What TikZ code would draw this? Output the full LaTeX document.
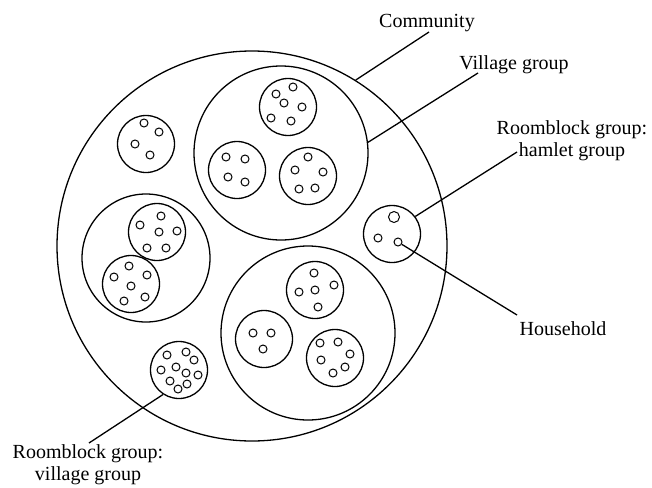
\documentclass[tikz,border=0pt]{standalone}
\usepackage{fontspec}
\setmainfont{Liberation Serif}
\usepackage{tikz}
\tikzset{grp/.style={draw, circle, inner sep=0pt, line width=1.3pt}}
\tikzset{rb/.style={grp, minimum size=57pt}}
\tikzset{hh/.style={draw, circle, inner sep=0pt, minimum size=8pt, line width=1pt}}
\tikzset{lead/.style={line width=1.3pt}}
\tikzset{lbl/.style={font=\fontsize{20}{22}\selectfont, inner sep=0pt, align=center}}

\begin{document}
\begin{tikzpicture}[x=1pt,y=-1pt]
\useasboundingbox (0,0) rectangle (652,487);
% community and village groups
\node[grp, minimum size=390pt] (comm) at (252,246) {};
\node[grp, minimum size=174pt] (vgA) at (281,153) {};
\node[grp, minimum size=174pt] (vgB) at (308,333) {};
\node[grp, minimum size=128pt] (vgC) at (146,258) {};
% roomblocks
\node[rb] (rbA1) at (288,107) {};
\node[rb] (rbA2) at (237,170) {};
\node[rb] (rbA3) at (308,176) {};
\node[rb] (rbS) at (146,144) {};
\node[rb] (rbC1) at (157,232) {};
\node[rb] (rbC2) at (131,284) {};
\node[rb] (rbB1) at (315,290) {};
\node[rb] (rbB2) at (264,339) {};
\node[rb] (rbB3) at (335,358) {};
\node[rb] (rbV) at (179,370) {};
\node[rb] (hg) at (392,234) {};
% households
\foreach \x/\y [count=\i] in {276/94,293/87,284/103,302/107,271/118,291/121}
  \node[hh] (hA1\i) at (\x,\y) {};
\foreach \x/\y [count=\i] in {226/157,245/159,228/177,245/182}
  \node[hh] (hA2\i) at (\x,\y) {};
\foreach \x/\y [count=\i] in {308/157,295/170,323/172,299/189,315/188}
  \node[hh] (hA3\i) at (\x,\y) {};
\foreach \x/\y [count=\i] in {144/123,159/132,135/144,150/155}
  \node[hh] (hS\i) at (\x,\y) {};
\foreach \x/\y [count=\i] in {161/216,140/225,159/232,177/231,147/248,166/248}
  \node[hh] (hC1\i) at (\x,\y) {};
\foreach \x/\y [count=\i] in {129/266,114/277,147/275,131/286,124/301,145/297}
  \node[hh] (hC2\i) at (\x,\y) {};
\foreach \x/\y [count=\i] in {314/273,299/292,315/290,334/285,318/307}
  \node[hh] (hB1\i) at (\x,\y) {};
\foreach \x/\y [count=\i] in {253/333,271/333,263/349}
  \node[hh] (hB2\i) at (\x,\y) {};
\foreach \x/\y [count=\i] in {320/343,338/342,350/354,321/360,345/367,333/373}
  \node[hh] (hB3\i) at (\x,\y) {};
\foreach \x/\y [count=\i] in {167/355,186/352,194/360,161/370,176/367,186/373,198/375,170/381,187/384,178/389}
  \node[hh] (hV\i) at (\x,\y) {};
\node[hh, minimum size=11pt] (hdA) at (394,217) {};
\node[hh] (hdB) at (378,238) {};
\node[hh] (hdC) at (398,242) {};
% labels
\node[lbl, anchor=base] (commLbl) at (427,28) {Community};
\node[lbl, anchor=base] (vgLbl) at (514,70) {Village group};
\node[lbl] (hamLbl) at (572,141) {Roomblock group:\\hamlet group};
\node[lbl, anchor=base] (hhLbl) at (563,335) {Household};
\node[lbl] (vilLbl) at (88,465) {Roomblock group:\\village group};
\coordinate (commEnd) at (429,32);
\coordinate (vgEnd) at (478,73);
\coordinate (hamEnd) at (517,152);
\coordinate (hhEnd) at (517,315);
\coordinate (vilEnd) at (89,443);
\draw[lead] (comm.58) -- (commEnd);
\draw[lead] (vgA.7) -- (vgEnd);
\draw[lead] (hg.37) -- (hamEnd);
\draw[lead] (hdC) -- (hhEnd);
\draw[lead] (rbV.237) -- (vilEnd);
\end{tikzpicture}
\end{document}
